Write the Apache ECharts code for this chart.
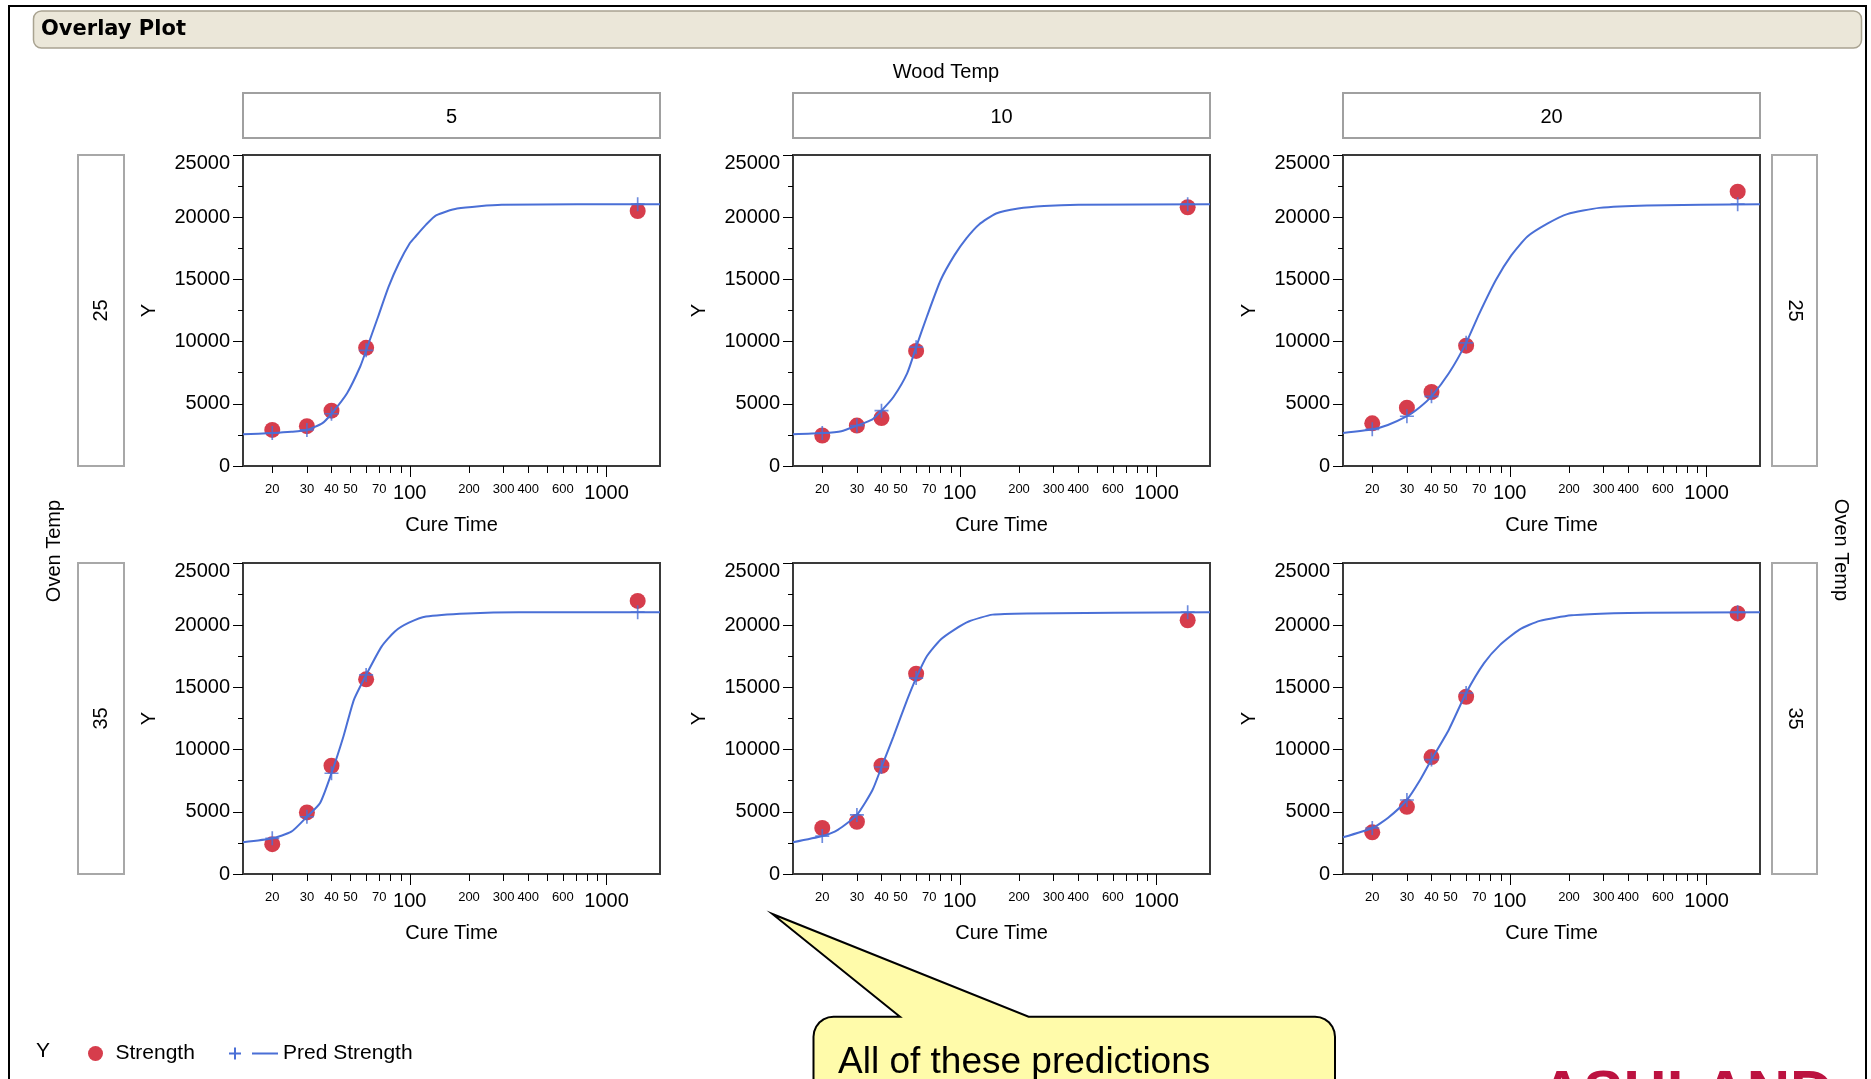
<!DOCTYPE html>
<html>
<head>
<meta charset="utf-8">
<script src="https://cdn.jsdelivr.net/npm/echarts@6/dist/echarts.min.js"></script>
<style>
html,body{margin:0;padding:0;background:#ffffff;}
#chart{width:1871px;height:1079px;}
</style>
</head>
<body>
<div id="chart"></div>
<script>
// ---------------- DATA ----------------
const cureTimes = [20, 30, 40, 60, 1440];
const woodTemps = [5, 10, 20];
const ovenTemps = [25, 35];

// Observed Strength (red circles)
const strength_W5_O25  = [2900, 3200, 4450, 9500, 20500];
const strength_W10_O25 = [2450, 3250, 3850, 9250, 20800];
const strength_W20_O25 = [3430, 4690, 5950, 9670, 22050];
const strength_W5_O35  = [2400, 4950, 8700, 15650, 21950];
const strength_W10_O35 = [3700, 4200, 8700, 16100, 20400];
const strength_W20_O35 = [3350, 5400, 9400, 14250, 20950];

// Predicted Strength at the cure times (blue +)
const pred_W5_O25  = [2650, 2900, 4200, 9300, 21050];
const pred_W10_O25 = [2650, 3250, 4450, 9550, 21050];
const pred_W20_O25 = [2950, 4000, 5600, 9900, 21050];
const pred_W5_O35  = [2870, 4600, 8100, 16000, 21050];
const pred_W10_O35 = [3050, 4750, 8600, 15750, 21050];
const pred_W20_O35 = [3700, 5950, 9200, 14550, 21050];

// Pred Strength curve: [Cure Time, Y]
const curve_W5_O25 = [[14.2,2550],[20,2650],[25,2750],[30,2900],[36,3450],[40,4200],[48,5850],[56,8000],[60,9300],[69,12000],[78,14400],[88,16300],[100,17900],[107,18450],[121,19400],[136,20150],[174,20700],[293,21000],[1870,21050]];
const curve_W10_O25 = [[14.2,2550],[20,2650],[25,2800],[30,3250],[36,3750],[40,4450],[46,5550],[54,7450],[60,9550],[68,12000],[80,14950],[94,16950],[108,18300],[125,19400],[153,20300],[198,20700],[268,20900],[401,21000],[1870,21050]];
const curve_W20_O25 = [[14.2,2650],[20,2950],[24,3300],[30,4000],[35,4750],[40,5600],[49,7450],[60,9900],[70,12250],[85,14950],[102,16950],[123,18450],[156,19500],[196,20250],[285,20750],[498,20950],[1870,21050]];
const curve_W5_O35 = [[14.2,2550],[20,2870],[25,3400],[30,4600],[35,5700],[40,8100],[46,11050],[52,14000],[60,16000],[72,18300],[84,19500],[99,20200],[121,20700],[196,20950],[358,21050],[1870,21050]];
const curve_W10_O35 = [[14.2,2550],[20,3050],[24,3550],[30,4750],[36,6750],[40,8600],[46,11050],[54,14000],[60,15750],[68,17500],[80,18850],[94,19650],[111,20300],[147,20850],[219,20950],[1870,21050]];
const curve_W20_O35 = [[14.2,2950],[20,3700],[24,4500],[30,5950],[35,7550],[40,9200],[49,11600],[60,14550],[74,16950],[89,18400],[112,19650],[142,20350],[206,20800],[312,20950],[498,21000],[1870,21050]];

// Axis ticks / labels
const xRange = [14.2, 1870];
const xTickValues = [20,30,40,50,60,70,80,90,100,200,300,400,500,600,700,800,900,1000];
const xMajorTicks = [100, 1000];
const xSmallLabels = [20,30,40,50,70,200,300,400,600];
const xLargeLabels = [100, 1000];
const yRange = [0, 25000];
const yInterval = 5000;

// ---------------- LAYOUT ----------------
const FONT = '"Liberation Sans", Arial, sans-serif';
const RED = '#D63D4C';
const BLUE = '#4A6FD6';
const colLeft = [243, 793, 1343];
const plotW = 417;
const rowTop = [155, 563];
const plotH = 311;

const panels = [
  {wood: woodTemps[0], oven: ovenTemps[0], col: 0, row: 0, s: strength_W5_O25,  p: pred_W5_O25,  c: curve_W5_O25},
  {wood: woodTemps[1], oven: ovenTemps[0], col: 1, row: 0, s: strength_W10_O25, p: pred_W10_O25, c: curve_W10_O25},
  {wood: woodTemps[2], oven: ovenTemps[0], col: 2, row: 0, s: strength_W20_O25, p: pred_W20_O25, c: curve_W20_O25},
  {wood: woodTemps[0], oven: ovenTemps[1], col: 0, row: 1, s: strength_W5_O35,  p: pred_W5_O35,  c: curve_W5_O35},
  {wood: woodTemps[1], oven: ovenTemps[1], col: 1, row: 1, s: strength_W10_O35, p: pred_W10_O35, c: curve_W10_O35},
  {wood: woodTemps[2], oven: ovenTemps[1], col: 2, row: 1, s: strength_W20_O35, p: pred_W20_O35, c: curve_W20_O35}
];

const L = v => Math.log10(v);
const fmtPow = v => String(Math.round(Math.pow(10, v)));
const minorTicks = xTickValues.filter(v => xMajorTicks.indexOf(v) < 0);
const plusPath = 'path://M4.4,0h1.2v4.4h4.4v1.2h-4.4v4.4h-1.2v-4.4h-4.4v-1.2h4.4z';

const grids = [], xAxes = [], yAxes = [], series = [];
panels.forEach((p, g) => {
  grids.push({
    left: colLeft[p.col], top: rowTop[p.row], width: plotW, height: plotH,
    show: true, borderColor: '#3a3a3a', borderWidth: 2, backgroundColor: 'rgba(0,0,0,0)',
    containLabel: false, outerBoundsMode: 'none'
  });
  // data axis (log)
  xAxes.push({type: 'log', logBase: 10, gridIndex: g, min: xRange[0], max: xRange[1], show: false});
  // minor ticks + small labels
  xAxes.push({
    type: 'value', gridIndex: g, min: L(xRange[0]), max: L(xRange[1]), position: 'bottom',
    axisLine: {show: true, onZero: false, lineStyle: {color: '#3a3a3a', width: 2}},
    axisTick: {show: true, inside: false, customValues: minorTicks.map(L), length: 7, lineStyle: {color: '#000', width: 1}},
    axisLabel: {show: true, customValues: xSmallLabels.map(L), formatter: fmtPow, fontSize: 13, margin: 17, color: '#000', fontFamily: FONT},
    splitLine: {show: false}, minorTick: {show: false}
  });
  // major ticks + large labels + name
  xAxes.push({
    type: 'value', gridIndex: g, min: L(xRange[0]), max: L(xRange[1]), position: 'bottom',
    axisLine: {show: false, onZero: false},
    axisTick: {show: true, inside: false, customValues: xMajorTicks.map(L), length: 11, lineStyle: {color: '#000', width: 1}},
    axisLabel: {show: true, customValues: xLargeLabels.map(L), formatter: fmtPow, fontSize: 20, margin: 17, color: '#000', fontFamily: FONT},
    splitLine: {show: false},
    name: 'Cure Time', nameLocation: 'middle', nameGap: 49,
    nameTextStyle: {fontSize: 20, color: '#000', fontFamily: FONT}
  });
  yAxes.push({
    type: 'value', gridIndex: g, min: yRange[0], max: yRange[1], interval: yInterval,
    axisLine: {show: true, onZero: false, lineStyle: {color: '#3a3a3a', width: 2}},
    axisTick: {show: true, inside: false, length: 10, lineStyle: {color: '#000', width: 1}},
    minorTick: {show: true, splitNumber: 2, length: 5, lineStyle: {color: '#000', width: 1}},
    splitLine: {show: false}, minorSplitLine: {show: false},
    axisLabel: {fontSize: 20, margin: 13, color: '#000', fontFamily: FONT,
      formatter: v => (v === yRange[1] ? '{top|' + v + '}' : String(v)),
      rich: {top: {fontSize: 20, color: '#000', fontFamily: FONT, padding: [16, 0, 0, 0]}}},
    name: 'Y', nameLocation: 'middle', nameGap: 84,
    nameTextStyle: {fontSize: 20, color: '#000', fontFamily: FONT}
  });
  const xi = g * 3;
  series.push({
    name: 'Strength', type: 'scatter', xAxisIndex: xi, yAxisIndex: g,
    data: cureTimes.map((t, i) => [t, p.s[i]]),
    symbol: 'circle', symbolSize: 16, itemStyle: {color: RED, opacity: 1}, z: 2
  });
  series.push({
    name: 'Pred Strength', type: 'line', xAxisIndex: xi, yAxisIndex: g,
    data: p.c, showSymbol: false, symbol: 'none', smooth: 0.2,
    lineStyle: {color: BLUE, width: 2}, itemStyle: {color: BLUE}, z: 3
  });
  series.push({
    name: 'Pred Strength', type: 'scatter', xAxisIndex: xi, yAxisIndex: g,
    data: cureTimes.map((t, i) => [t, p.p[i]]),
    symbol: plusPath, symbolSize: 14, itemStyle: {color: BLUE}, z: 4
  });
});

// ---------------- GRAPHICS (frame, strips, callout) ----------------
const graphics = [];
graphics.push({type: 'rect', z: -10, shape: {x: 9, y: 6, width: 1857, height: 1120},
  style: {fill: '#fff', stroke: '#000', lineWidth: 2}, silent: true});
graphics.push({type: 'rect', shape: {x: 33.5, y: 11, width: 1828, height: 37, r: 8},
  style: {fill: '#EBE7D9', stroke: '#A9A391', lineWidth: 1.5}, silent: true});
graphics.push({type: 'text', x: 41, y: 30, style: {text: 'Overlay Plot', fill: '#000',
  font: 'bold 21px "DejaVu Sans", sans-serif', align: 'left', verticalAlign: 'middle'}});
graphics.push({type: 'text', x: 946, y: 72.5, style: {text: 'Wood Temp', fill: '#000',
  font: '20px ' + FONT, align: 'center', verticalAlign: 'middle'}});

// column strips
woodTemps.forEach((w, c) => {
  graphics.push({type: 'rect', shape: {x: colLeft[c], y: 93, width: plotW, height: 45},
    style: {fill: '#fff', stroke: '#A0A0A0', lineWidth: 2}});
  graphics.push({type: 'text', x: colLeft[c] + plotW / 2, y: 117, style: {text: String(w), fill: '#000',
    font: '20px ' + FONT, align: 'center', verticalAlign: 'middle'}});
});
// row strips
ovenTemps.forEach((o, r) => {
  const cy = rowTop[r] + plotH / 2;
  graphics.push({type: 'rect', shape: {x: 78, y: rowTop[r], width: 46, height: plotH},
    style: {fill: '#fff', stroke: '#A8A8A8', lineWidth: 2}});
  graphics.push({type: 'text', x: 101, y: cy, rotation: Math.PI / 2, style: {text: String(o), fill: '#000',
    font: '20px ' + FONT, align: 'center', verticalAlign: 'middle'}});
  graphics.push({type: 'rect', shape: {x: 1772, y: rowTop[r], width: 45, height: plotH},
    style: {fill: '#fff', stroke: '#A8A8A8', lineWidth: 2}});
  graphics.push({type: 'text', x: 1794.5, y: cy, rotation: -Math.PI / 2, style: {text: String(o), fill: '#000',
    font: '20px ' + FONT, align: 'center', verticalAlign: 'middle'}});
});
graphics.push({type: 'text', x: 54, y: 551, rotation: Math.PI / 2, style: {text: 'Oven Temp', fill: '#000',
  font: '20px ' + FONT, align: 'center', verticalAlign: 'middle'}});
graphics.push({type: 'text', x: 1841, y: 550, rotation: -Math.PI / 2, style: {text: 'Oven Temp', fill: '#000',
  font: '20px ' + FONT, align: 'center', verticalAlign: 'middle'}});

// legend prefix
graphics.push({type: 'text', x: 43, y: 1051, style: {text: 'Y', fill: '#000',
  font: '21px ' + FONT, align: 'center', verticalAlign: 'middle'}});

// callout bubble
(function () {
  const l = 813.5, r = 1335, t = 1016.7, b = 1140, rad = 20;
  const pts = [[900, t], [772.4, 914], [1028.6, t], [r - rad, t]];
  for (let i = 1; i <= 6; i++) { const a = -Math.PI / 2 + i * Math.PI / 12; pts.push([r - rad + rad * Math.cos(a), t + rad + rad * Math.sin(a)]); }
  pts.push([r, b], [l, b], [l, t + rad]);
  for (let i = 1; i <= 6; i++) { const a = Math.PI + i * Math.PI / 12; pts.push([l + rad + rad * Math.cos(a), t + rad + rad * Math.sin(a)]); }
  graphics.push({type: 'polygon', shape: {points: pts}, style: {fill: '#FFFBAA', stroke: '#000', lineWidth: 2}, z: 20});
  graphics.push({type: 'text', x: 838, y: 1063, z: 21, style: {text: 'All of these predictions', fill: '#000',
    font: '37px ' + FONT, align: 'left', verticalAlign: 'middle'}});
})();
// logo (cut off at bottom)
graphics.push({type: 'text', x: 1540, y: 1095, style: {text: 'ASHLAND', fill: '#BC1240',
  font: 'bold 60px ' + FONT, align: 'left', verticalAlign: 'middle'}});

const option = {
  animation: false,
  backgroundColor: '#ffffff',
  textStyle: {fontFamily: FONT, color: '#000'},
  grid: grids,
  xAxis: xAxes,
  yAxis: yAxes,
  series: series,
  legend: [
    {data: [{name: 'Strength', icon: 'circle'}], left: 83, top: 1038, itemWidth: 30, itemHeight: 15,
      selectedMode: false, textStyle: {fontSize: 21, color: '#000', fontFamily: FONT}, itemStyle: {color: RED}},
    {data: [{name: 'Pred Strength', icon: 'path://M5,0h2v5h5v2h-5v5h-2v-5h-5v-2h5z M23,5h26v2h-26z'}], left: 224, top: 1038,
      itemWidth: 49, itemHeight: 12, selectedMode: false,
      textStyle: {fontSize: 21, color: '#000', fontFamily: FONT}, itemStyle: {color: BLUE}, lineStyle: {width: 0}}
  ],
  graphic: graphics
};

const chart = echarts.init(document.getElementById('chart'), null, {renderer: 'canvas'});
chart.setOption(option);
</script>
</body>
</html>
